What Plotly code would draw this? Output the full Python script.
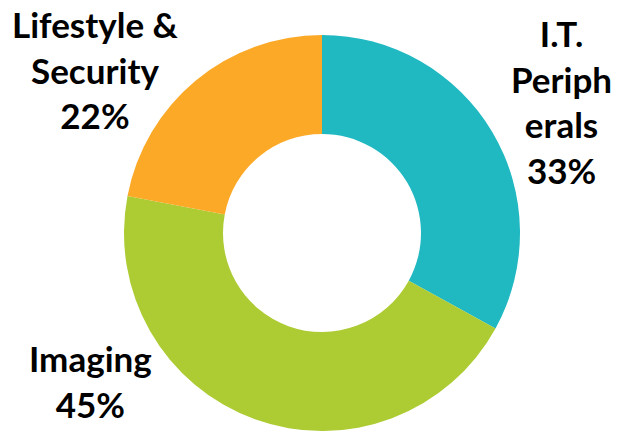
import plotly.graph_objects as go

# Revenue share by product segment
labels = ["I.T.<br>Periph<br>erals", "Imaging", "Lifestyle &<br>Security"]
values = [33, 45, 22]
colors = ["#20B8C1", "#ADCB33", "#FBA927"]

W, H = 621, 431

fig = go.Figure(
    go.Pie(
        values=values,
        labels=labels,
        hole=0.5,
        sort=False,
        direction="clockwise",
        rotation=0,
        marker=dict(colors=colors, line=dict(width=0)),
        textinfo="none",
        hoverinfo="skip",
        domain=dict(x=[124 / W, 520 / W], y=[0, 396 / H]),
    )
)

# Outside labels: category name followed by its share
label_pos = [(561, 101), (90, 381), (95, 70)]
for lab, val, (px, py) in zip(labels, values, label_pos):
    fig.add_annotation(
        x=px / W,
        y=1 - py / H,
        xref="paper",
        yref="paper",
        xanchor="center",
        yanchor="middle",
        text=f"{lab}<br>{val}%",
        showarrow=False,
        align="center",
        font=dict(family="Lato", size=35, color="#000000", weight="bold"),
    )

fig.update_layout(
    width=W,
    height=H,
    margin=dict(l=0, r=0, t=0, b=0),
    paper_bgcolor="white",
    plot_bgcolor="white",
    showlegend=False,
)

fig.write_html("out.html")
